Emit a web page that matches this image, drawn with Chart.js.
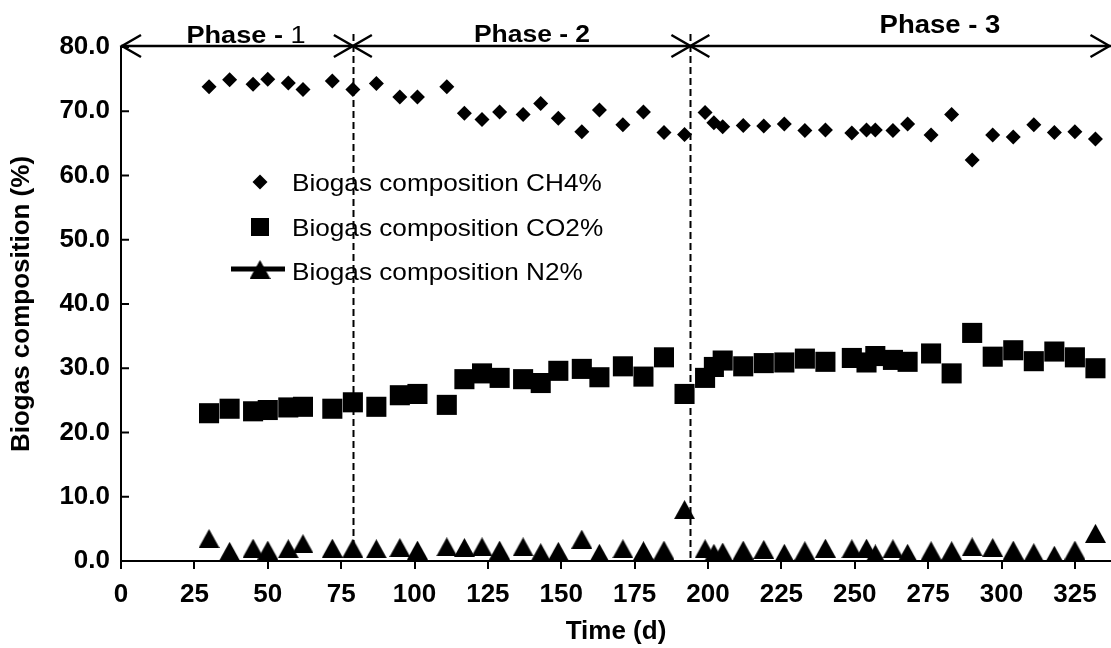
<!DOCTYPE html>
<html>
<head>
<meta charset="utf-8">
<script src="https://cdn.jsdelivr.net/npm/chart.js@4.4.0/dist/chart.umd.min.js"></script>
<style>
  html, body { margin: 0; padding: 0; background: #fff; }
</style>
</head>
<body>
<canvas id="biogas" width="1111" height="648"></canvas>
<script>
// Sampling days (d)
var days = [30, 37, 45, 50, 57, 62, 72, 79, 87, 95, 101, 111, 117, 123, 129, 137, 143, 149, 157, 163, 171, 178,
  185, 192, 199, 202, 205, 212, 219, 226, 233, 240, 249, 254, 257, 263, 268, 276, 283, 290, 297, 304, 311, 318, 325, 332];

// Biogas composition (%)
var ch4 = [73.8, 74.9, 74.2, 75.0, 74.4, 73.4, 74.7, 73.4, 74.3, 72.2, 72.2, 73.8, 69.7, 68.7, 69.9, 69.5, 71.2, 68.9,
  66.8, 70.2, 67.9, 69.9, 66.7, 66.4, 69.8, 68.2, 67.6, 67.8, 67.7, 68.0, 67.0, 67.1, 66.6, 67.1, 67.1, 67.0, 68.0,
  66.3, 69.5, 62.4, 66.3, 66.0, 67.9, 66.7, 66.8, 65.7];
var co2 = [23.0, 23.7, 23.3, 23.5, 23.9, 24.0, 23.7, 24.7, 24.0, 25.8, 26.0, 24.3, 28.3, 29.2, 28.5, 28.3, 27.7, 29.6,
  29.9, 28.6, 30.3, 28.7, 31.7, 26.0, 28.5, 30.2, 31.2, 30.3, 30.8, 30.9, 31.5, 31.0, 31.6, 30.9, 31.9, 31.3, 31.0,
  32.3, 29.2, 35.5, 31.8, 32.8, 31.1, 32.6, 31.7, 30.0];
var n2 = [3.5, 1.5, 2.0, 1.7, 1.9, 2.7, 2.0, 2.0, 1.9, 2.1, 1.7, 2.2, 2.1, 2.2, 1.7, 2.2, 1.3, 1.5, 3.4, 1.2, 1.9, 1.6,
  1.7, 8.0, 1.9, 1.2, 1.4, 1.7, 1.8, 1.2, 1.6, 2.0, 1.9, 2.0, 1.1, 1.9, 1.2, 1.6, 1.6, 2.2, 2.1, 1.7, 1.3, 0.9, 1.7, 4.3];

// Series names
var seriesNames = ['Biogas composition CH4%', 'Biogas composition CO2%', 'Biogas composition N2%'];

// Axis ticks
var xTicks = [0, 25, 50, 75, 100, 125, 150, 175, 200, 225, 250, 275, 300, 325];
var yTicks = [0, 10, 20, 30, 40, 50, 60, 70, 80];

// Phase boundaries (d) and labels
var phaseBounds = [79, 194];
var phaseLabels = [['Phase - ', '1'], ['Phase - ', '2'], ['Phase - ', '3']];

var FONT = 'Liberation Sans, Arial, sans-serif';
Chart.defaults.font.family = FONT;
Chart.defaults.color = '#000';

// Filled triangle, centred on its bounding box like the spreadsheet marker
function triangleMarker(w, h) {
  var c = document.createElement('canvas');
  c.width = w;
  c.height = h;
  var g = c.getContext('2d');
  g.fillStyle = '#000';
  g.beginPath();
  g.moveTo(w / 2, 0);
  g.lineTo(w, h);
  g.lineTo(0, h);
  g.closePath();
  g.fill();
  return c;
}
var tri = triangleMarker(21, 19);

function points(values) {
  return days.map(function (d, i) { return { x: d, y: values[i] }; });
}

// Phase arrows, dashed boundaries, inward y ticks and the inset legend
var annotations = {
  id: 'annotations',
  afterDraw: function (chart) {
    var ctx = chart.ctx, area = chart.chartArea;
    var xs = chart.scales.x, ys = chart.scales.y;
    ctx.save();
    ctx.strokeStyle = '#000';
    ctx.fillStyle = '#000';

    // inward ticks on the y axis
    ctx.lineWidth = 2;
    yTicks.forEach(function (v) {
      var py = ys.getPixelForValue(v);
      ctx.beginPath();
      ctx.moveTo(area.left, py);
      ctx.lineTo(area.left + 8, py);
      ctx.stroke();
    });

    // dashed phase boundaries
    ctx.lineWidth = 2;
    ctx.setLineDash([7, 4]);
    phaseBounds.forEach(function (d) {
      var px = Math.round(xs.getPixelForValue(d)) + 0.5;
      ctx.beginPath();
      ctx.moveTo(px, area.top - 13);
      ctx.lineTo(px, area.bottom);
      ctx.stroke();
    });
    ctx.setLineDash([]);

    // double arrows along the top
    var ay = area.top - 1;
    ctx.lineWidth = 2.5;
    ctx.beginPath();
    ctx.moveTo(area.left, ay);
    ctx.lineTo(area.right, ay);
    ctx.stroke();
    function head(px, dir) {
      ctx.beginPath();
      ctx.moveTo(px + dir * 19, ay - 11);
      ctx.lineTo(px, ay);
      ctx.lineTo(px + dir * 19, ay + 11);
      ctx.stroke();
    }
    head(area.left + 1, 1);
    phaseBounds.forEach(function (d) {
      var px = xs.getPixelForValue(d);
      head(px, -1);
      head(px, 1);
    });
    head(area.right - 1.5, -1);

    // phase labels (slightly wide lettering as in the original)
    function label(parts, fonts, cx, base, stretch) {
      var widths = parts.map(function (p, i) { ctx.font = fonts[i]; return ctx.measureText(p).width; });
      var total = widths.reduce(function (a, b) { return a + b; }, 0) * stretch;
      var x = cx - total / 2;
      ctx.textAlign = 'left';
      ctx.textBaseline = 'alphabetic';
      parts.forEach(function (p, i) {
        ctx.save();
        ctx.translate(x, base);
        ctx.scale(stretch, 1);
        ctx.font = fonts[i];
        ctx.fillText(p, 0, 0);
        ctx.restore();
        x += widths[i] * stretch;
      });
    }
    label(phaseLabels[0], ['bold 23px ' + FONT, '23px ' + FONT], 246, 43, 1.18);
    label(phaseLabels[1], ['bold 23px ' + FONT, 'bold 23px ' + FONT], 532, 42, 1.15);
    label(phaseLabels[2], ['bold 25px ' + FONT, 'bold 25px ' + FONT], 940, 33, 1.1);

    // legend inside the plot
    var lx = 260, tx = 292;
    var rows = [182, 227, 271];
    ctx.beginPath();
    ctx.moveTo(lx, rows[0] - 7.5);
    ctx.lineTo(lx + 7.5, rows[0]);
    ctx.lineTo(lx, rows[0] + 7.5);
    ctx.lineTo(lx - 7.5, rows[0]);
    ctx.closePath();
    ctx.fill();
    ctx.fillRect(lx - 9, rows[1] - 9, 18, 18);
    ctx.lineWidth = 5;
    ctx.beginPath();
    ctx.moveTo(lx - 29, rows[2] - 2);
    ctx.lineTo(lx + 25, rows[2] - 2);
    ctx.stroke();
    ctx.drawImage(tri, lx - 10.5, rows[2] - 11);
    seriesNames.forEach(function (name, i) {
      ctx.save();
      ctx.translate(tx, rows[i] + 9);
      ctx.scale(1.09, 1);
      ctx.font = '24px ' + FONT;
      ctx.textAlign = 'left';
      ctx.textBaseline = 'alphabetic';
      ctx.fillText(name, 0, 0);
      ctx.restore();
    });
    ctx.restore();
  }
};

new Chart(document.getElementById('biogas'), {
  type: 'scatter',
  data: {
    datasets: [
      { label: seriesNames[2], data: points(n2), pointStyle: tri, pointRadius: 10, backgroundColor: '#000', borderWidth: 0 },
      { label: seriesNames[1], data: points(co2), pointStyle: 'rect', pointRadius: 14.2, backgroundColor: '#000', borderWidth: 0 },
      { label: seriesNames[0], data: points(ch4), pointStyle: 'rectRot', pointRadius: 7.5, backgroundColor: '#000', borderWidth: 0 }
    ]
  },
  options: {
    responsive: false,
    animation: false,
    events: [],
    layout: { autoPadding: false, padding: { top: 47, right: 0, bottom: 0, left: 0 } },
    plugins: {
      legend: { display: false },
      tooltip: { enabled: false }
    },
    scales: {
      x: {
        type: 'linear',
        min: 0,
        max: 337.3,
        afterBuildTicks: function (s) { s.ticks = xTicks.map(function (v) { return { value: v }; }); },
        afterFit: function (s) { s.height = 87; s.paddingLeft = 0; s.paddingRight = 0; },
        ticks: { font: { size: 26, weight: 'bold' }, padding: 10, maxRotation: 0, autoSkip: false },
        grid: { drawOnChartArea: false, drawTicks: true, tickLength: 8, color: '#000', lineWidth: 2 },
        border: { display: true, color: '#000', width: 2 },
        title: { display: true, text: 'Time (d)', font: { size: 26, weight: 'bold' }, padding: { top: 0, bottom: 1 } }
      },
      y: {
        type: 'linear',
        min: 0,
        max: 80,
        afterBuildTicks: function (s) { s.ticks = yTicks.map(function (v) { return { value: v }; }); },
        afterFit: function (s) { s.width = 121; s.paddingTop = 0; s.paddingBottom = 0; },
        ticks: { font: { size: 26, weight: 'bold' }, padding: 11, callback: function (v) { return v.toFixed(1); } },
        grid: { display: false, drawTicks: false },
        border: { display: true, color: '#000', width: 2 },
        title: { display: true, text: 'Biogas composition (%)', font: { size: 26, weight: 'bold' }, padding: { top: 6, bottom: 0 } }
      }
    }
  },
  plugins: [annotations]
});
</script>
</body>
</html>
